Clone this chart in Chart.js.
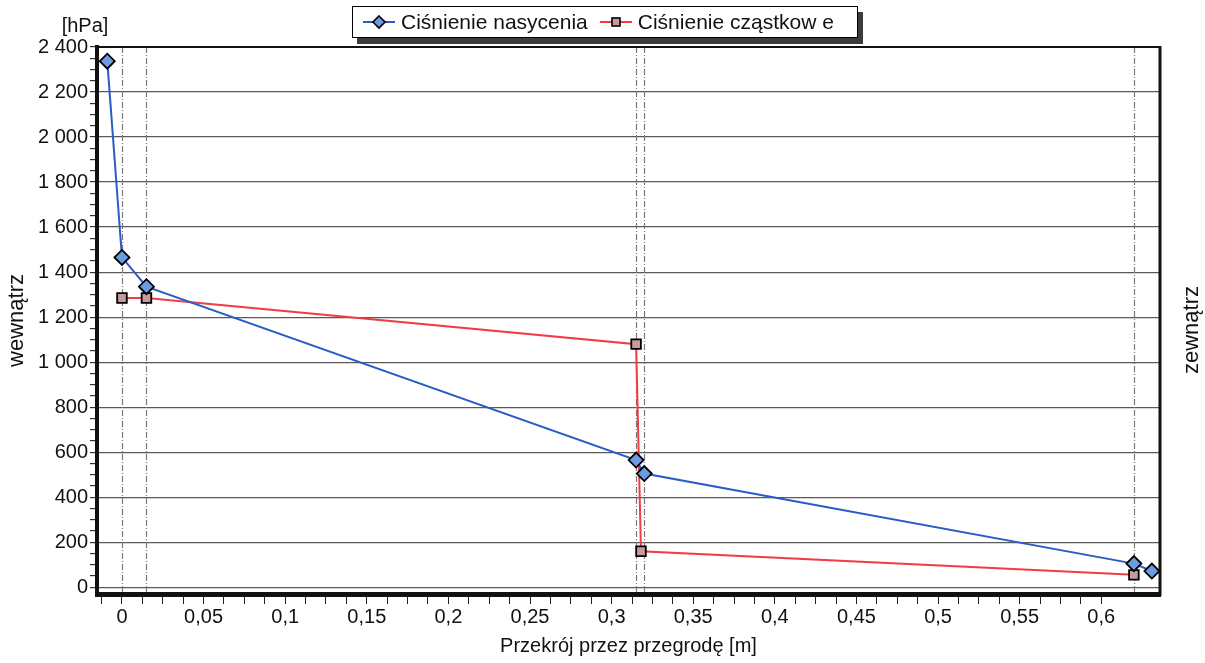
<!DOCTYPE html>
<html lang="pl">
<head>
<meta charset="utf-8">
<title>Rozkład ciśnień w przegrodzie</title>
<script src="https://cdn.jsdelivr.net/npm/chart.js@4.4.1/dist/chart.umd.min.js"></script>
<style>
  html, body { margin: 0; padding: 0; background: #fff; }
  #wrap { position: relative; width: 1205px; height: 663px; font-family: "Liberation Sans", Arial, sans-serif; }
  #wykres { position: absolute; left: 0; top: 0; }
  .legend {
    position: absolute; left: 352px; top: 6px; width: 504px; height: 30px;
    border: 1px solid #000; background: #fff; box-shadow: 5px 6px 0 #3c3c3c;
    display: flex; align-items: center; font-size: 21px; color: #111; white-space: nowrap;
  }
  .legend .item { display: flex; align-items: center; }
  .legend .item svg { margin-right: 6px; }
</style>
</head>
<body>
<div id="wrap">
  <canvas id="wykres" width="1205" height="663"></canvas>
  <div class="legend">
    <div class="item" style="margin-left:10px">
      <svg width="32" height="16" viewBox="0 0 32 16">
        <line x1="0" y1="8" x2="32" y2="8" stroke="#2a5cc6" stroke-width="2"/>
        <polygon points="16,2 22,8 16,14 10,8" fill="#6d9be0" stroke="#000" stroke-width="1.6"/>
      </svg>
      <span>Ciśnienie nasycenia</span>
    </div>
    <div class="item" style="margin-left:12px">
      <svg width="32" height="16" viewBox="0 0 32 16">
        <line x1="0" y1="8" x2="32" y2="8" stroke="#f03c46" stroke-width="2"/>
        <rect x="12" y="4" width="8" height="8" fill="#c99a9a" stroke="#000" stroke-width="1.6"/>
      </svg>
      <span>Ciśnienie cząstkow e</span>
    </div>
  </div>
</div>
<script>
// punkty na granicach warstw przegrody [m] i ciśnienia [hPa]
const xNasycenia = [-0.009, 0, 0.015, 0.315, 0.32, 0.62, 0.631];
const pNasycenia = [2337, 1465, 1335, 565, 505, 105, 72];

const xCzastkowe = [0, 0.015, 0.315, 0.318, 0.62];
const pCzastkowe = [1285, 1285, 1080, 160, 55];

// opisane podziałki osi
const yTicks = [0, 200, 400, 600, 800, 1000, 1200, 1400, 1600, 1800, 2000, 2200, 2400];
const xTicks = [0, 0.05, 0.1, 0.15, 0.2, 0.25, 0.3, 0.35, 0.4, 0.45, 0.5, 0.55, 0.6];

// pionowe linie na granicach warstw
const granice = [0, 0.015, 0.315, 0.32, 0.62];

const FONT = '"Liberation Sans", Arial, sans-serif';

function punkty(xs, ys) {
  return xs.map((x, i) => ({ x: x, y: ys[i] }));
}

// podziałki pośrednie: 4 odcinki między opisanymi
function zPodzialkami(major) {
  const out = [];
  for (let i = 0; i < major.length - 1; i++) {
    const a = major[i], b = major[i + 1];
    for (let k = 0; k < 4; k++) out.push(a + (b - a) * k / 4);
  }
  out.push(major[major.length - 1]);
  return out;
}

function jestOpisany(v, major) {
  return major.some(m => Math.abs(m - v) < 1e-9);
}

function tysiace(v) {
  return String(v).replace(/\B(?=(\d{3})+(?!\d))/g, ' ');
}

const ramka = {
  id: 'ramka',
  beforeDatasetsDraw(chart) {
    const { ctx, chartArea: a } = chart;
    const sx = chart.scales.x;
    ctx.save();
    ctx.strokeStyle = '#7a7a7a';
    ctx.lineWidth = 1.2;
    ctx.setLineDash([6, 2, 1, 2]);
    granice.forEach(g => {
      const px = Math.round(sx.getPixelForValue(g)) + 0.5;
      ctx.beginPath();
      ctx.moveTo(px, a.top);
      ctx.lineTo(px, a.bottom);
      ctx.stroke();
    });
    ctx.restore();
  },
  afterDraw(chart) {
    const { ctx, chartArea: a } = chart;
    ctx.save();
    ctx.strokeStyle = '#111';
    ctx.lineWidth = 2;
    ctx.beginPath();
    ctx.moveTo(a.left, a.top);
    ctx.lineTo(a.right, a.top);
    ctx.stroke();
    ctx.lineWidth = 3;
    ctx.beginPath();
    ctx.moveTo(a.right, a.top - 1);
    ctx.lineTo(a.right, a.bottom + 2);
    ctx.stroke();

    ctx.fillStyle = '#111';
    ctx.font = '20px ' + FONT;
    ctx.textAlign = 'center';
    ctx.textBaseline = 'middle';
    ctx.fillText('[hPa]', 85, 26);

    ctx.translate(1192, 330);
    ctx.rotate(-Math.PI / 2);
    ctx.font = '22px ' + FONT;
    ctx.fillText('zewnątrz', 0, 0);
    ctx.restore();
  }
};

new Chart(document.getElementById('wykres'), {
  type: 'scatter',
  data: {
    datasets: [
      {
        label: 'Ciśnienie nasycenia',
        data: punkty(xNasycenia, pNasycenia),
        showLine: true,
        borderColor: '#2a5cc6',
        borderWidth: 2,
        pointStyle: 'rectRot',
        pointRadius: 7.5,
        pointBackgroundColor: '#6d9be0',
        pointBorderColor: '#000',
        pointBorderWidth: 1.8
      },
      {
        label: 'Ciśnienie cząstkowe',
        data: punkty(xCzastkowe, pCzastkowe),
        showLine: true,
        borderColor: '#f03c46',
        borderWidth: 2,
        pointStyle: 'rect',
        pointRadius: 6.8,
        pointBackgroundColor: '#c99a9a',
        pointBorderColor: '#000',
        pointBorderWidth: 1.8
      }
    ]
  },
  options: {
    responsive: false,
    animation: false,
    devicePixelRatio: 1,
    layout: { padding: { top: 47, right: 45, left: 0, bottom: 0 } },
    plugins: {
      legend: { display: false },
      tooltip: { enabled: false }
    },
    scales: {
      x: {
        type: 'linear',
        min: -0.0153,
        max: 0.636,
        afterBuildTicks(scale) {
          const vals = [-0.0125].concat(zPodzialkami(xTicks));
          scale.ticks = vals.map(v => ({ value: v }));
        },
        afterFit(scale) { scale.height = 69; },
        ticks: {
          autoSkip: false,
          maxRotation: 0,
          padding: 1,
          color: '#111',
          font: { family: FONT, size: 20 },
          callback: v => jestOpisany(v, xTicks) ? String(+v.toFixed(2)).replace('.', ',') : ''
        },
        grid: {
          drawOnChartArea: false,
          tickLength: 10,
          tickColor: '#222',
          tickWidth: 1
        },
        border: { color: '#111', width: 5 },
        title: {
          display: true,
          text: 'Przekrój przez przegrodę [m]',
          color: '#111',
          font: { family: FONT, size: 20 },
          padding: { top: 2, bottom: 5 }
        }
      },
      y: {
        type: 'linear',
        min: -30,
        max: 2400,
        afterBuildTicks(scale) {
          scale.ticks = zPodzialkami(yTicks).map(v => ({ value: v }));
        },
        afterFit(scale) { scale.width = 97; },
        ticks: {
          autoSkip: false,
          padding: 2,
          color: '#111',
          font: { family: FONT, size: 20 },
          callback: v => jestOpisany(v, yTicks) ? tysiace(v) : ''
        },
        grid: {
          color: c => c.tick && jestOpisany(c.tick.value, yTicks) ? '#5a5a5a' : 'rgba(0,0,0,0)',
          lineWidth: 1.2,
          tickLength: 7,
          tickColor: '#333'
        },
        border: { color: '#111', width: 4 },
        title: {
          display: true,
          text: 'wewnątrz',
          color: '#111',
          font: { family: FONT, size: 22 },
          padding: { top: 4, bottom: 0 }
        }
      }
    }
  },
  plugins: [ramka]
});
</script>
</body>
</html>
